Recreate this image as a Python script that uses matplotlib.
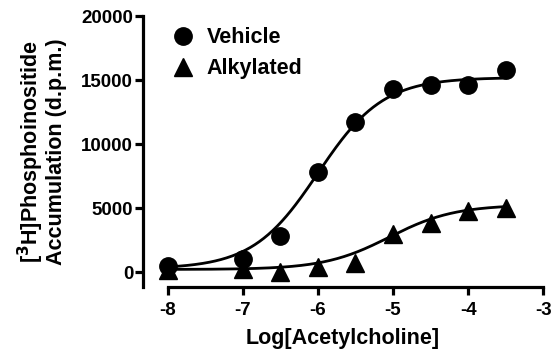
import numpy as np
import matplotlib.pyplot as plt

# dose (log M) and response (d.p.m.)
log_ach = [-8, -7, -6.5, -6, -5.5, -5, -4.5, -4, -3.5]
vehicle = [450, 1000, 2800, 7800, 11700, 14300, 14600, 14600, 15800]
alkylated = [150, 200, 0, 400, 700, 3000, 3800, 4800, 5000]

# sigmoidal fit parameters: bottom, top, logEC50, hill
fit_vehicle = (250, 15200, -6.0, 1.0)
fit_alkylated = (200, 5250, -5.05, 1.0)


def sigmoid(x, bottom, top, logec50, hill):
    return bottom + (top - bottom) / (1 + 10 ** ((logec50 - x) * hill))


plt.rcParams["font.family"] = ["Liberation Sans", "DejaVu Sans"]
plt.rcParams["font.weight"] = "bold"
plt.rcParams["mathtext.default"] = "bf"

fig = plt.figure(figsize=(5.52, 3.5), dpi=100)
ax = fig.add_axes([0.259, 0.18, 0.725, 0.774])

xs = np.linspace(-8, -3.5, 300)
ax.plot(xs, sigmoid(xs, *fit_vehicle), color="black", lw=2)
ax.plot(xs, sigmoid(xs, *fit_alkylated), color="black", lw=2)
ax.plot(log_ach, vehicle, "o", color="black", ms=12.5, label="Vehicle", clip_on=False)
ax.plot(log_ach, alkylated, "^", color="black", ms=12.5, label="Alkylated", clip_on=False)

ax.set_xlim(-8.33, -3)
ax.set_ylim(-1170, 20000)
ax.set_xticks([-8, -7, -6, -5, -4, -3])
ax.set_xticklabels(["-8", "-7", "-6", "-5", "-4", "-3"])
ax.set_yticks([0, 5000, 10000, 15000, 20000])

for s in ["top", "right"]:
    ax.spines[s].set_visible(False)
ax.spines["left"].set_linewidth(2.3)
ax.spines["bottom"].set_linewidth(2.3)
ax.spines["bottom"].set_bounds(-8, -3)
ax.tick_params(width=2.3, length=6, labelsize=13.5, pad=1)
ax.tick_params(axis="x", pad=5)
for lab in ax.get_xticklabels() + ax.get_yticklabels():
    lab.set_fontweight("bold")

ax.set_xlabel("Log[Acetylcholine]", fontsize=15.5, fontweight="bold", labelpad=6)
ax.set_ylabel("[$^3$H]Phosphoinositide\nAccumulation (d.p.m.)",
              fontsize=15.5, fontweight="bold", labelpad=10, linespacing=1.0)

ax.legend(loc="upper left", bbox_to_anchor=(0.02, 1.03), frameon=False,
          prop={"size": 15.5, "weight": "bold"}, handletextpad=0.5,
          labelspacing=0.45, handlelength=1.2)

fig.savefig("out.png", dpi=100)
